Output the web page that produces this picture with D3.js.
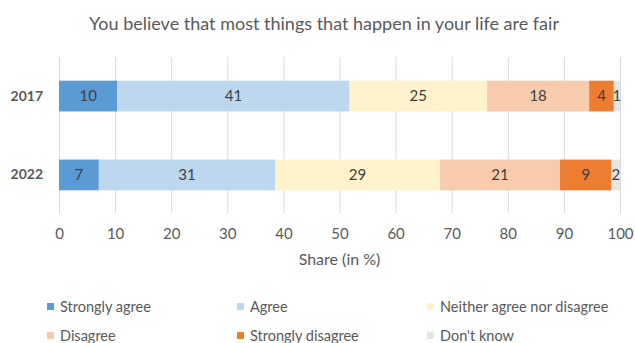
<!DOCTYPE html>
<html>
<head>
<meta charset="utf-8">
<script src="https://cdn.jsdelivr.net/npm/d3@7"></script>
<style>
  html, body { margin: 0; padding: 0; background: #ffffff; }
  svg { display: block; font-family: Lato, "Open Sans", sans-serif; }
</style>
</head>
<body>
<svg id="chart" width="635" height="343"></svg>
<script>
// Survey years (rows of the stacked bar chart)
const years = ["2017", "2022"];

// Response categories, in stacking order
const categories = [
  "Strongly agree",
  "Agree",
  "Neither agree nor disagree",
  "Disagree",
  "Strongly disagree",
  "Don't know"
];

// Share of respondents (in %) per category, one array per year
const values2017 = [10.4, 41.4, 24.5, 18.2, 4.4, 1.1];
const values2022 = [7.1, 31.4, 29.4, 21.4, 9.2, 1.5];

// Axis ticks
const xTicks = [0, 10, 20, 30, 40, 50, 60, 70, 80, 90, 100];

const colors = ["#5B9BD5", "#BDD7EE", "#FFF2CC", "#F8CBAD", "#ED7D31", "#E7E6E6"];

const title = "You believe that most things that happen in your life are fair";
const xTitle = "Share (in %)";

const svg = d3.select("#chart");
const textColor = "#595959";

const x = d3.scaleLinear().domain([0, 100]).range([59, 620]);
const y = d3.scaleBand().domain(years).range([57, 214]).paddingInner(0.61).paddingOuter(0.3);
const color = d3.scaleOrdinal().domain(categories).range(colors);

// Build stack input: one row per year
const rows = years.map((yr, i) => {
  const vals = i === 0 ? values2017 : values2022;
  const row = { year: yr };
  categories.forEach((c, j) => { row[c] = vals[j]; });
  return row;
});
const series = d3.stack().keys(categories)(rows);

// Title
svg.append("text")
  .attr("x", 324).attr("y", 30)
  .attr("text-anchor", "middle")
  .attr("font-size", 18)
  .attr("fill", textColor)
  .text(title);

// Vertical gridlines
svg.append("g")
  .selectAll("line")
  .data(xTicks)
  .join("line")
  .attr("x1", d => x(d) + 0.5).attr("x2", d => x(d) + 0.5)
  .attr("y1", 57).attr("y2", 213)
  .attr("stroke", "#d9d9d9")
  .attr("stroke-width", 1);

// Bars
const layer = svg.append("g")
  .selectAll("g")
  .data(series)
  .join("g")
  .attr("fill", d => color(d.key));

layer.selectAll("rect")
  .data(d => d)
  .join("rect")
  .attr("x", d => x(d[0]))
  .attr("width", d => x(d[1]) - x(d[0]))
  .attr("y", d => y(d.data.year))
  .attr("height", y.bandwidth());

// Value labels
const fmt = d3.format(".0f");
const labels = svg.append("g");
series.forEach(s => {
  s.forEach(d => {
    labels.append("text")
      .attr("x", (x(d[0]) + x(d[1])) / 2)
      .attr("y", y(d.data.year) + y.bandwidth() / 2)
      .attr("dy", "0.35em")
      .attr("text-anchor", "middle")
      .attr("font-size", 15)
      .attr("fill", "#404040")
      .text(fmt(d[1] - d[0]));
  });
});

// Y axis (year labels)
const yAxis = d3.axisLeft(y).tickSize(0).tickPadding(0);
svg.append("g")
  .attr("transform", "translate(43,0)")
  .call(yAxis)
  .call(g => g.select(".domain").remove())
  .call(g => g.selectAll("text")
    .attr("font-family", "Lato, 'Open Sans', sans-serif")
    .attr("font-size", 14)
    .attr("font-weight", "bold")
    .attr("fill", textColor));

// X axis (tick labels only)
const xAxis = d3.axisBottom(x).tickValues(xTicks).tickSize(0).tickPadding(0);
svg.append("g")
  .attr("transform", "translate(0,228)")
  .call(xAxis)
  .call(g => g.select(".domain").remove())
  .call(g => g.selectAll("text")
    .attr("font-family", "Lato, 'Open Sans', sans-serif")
    .attr("font-size", 15)
    .attr("fill", textColor));

// X axis title
svg.append("text")
  .attr("x", (x(0) + x(100)) / 2)
  .attr("y", 265)
  .attr("text-anchor", "middle")
  .attr("font-size", 16)
  .attr("fill", textColor)
  .text(xTitle);

// Legend: three columns, two rows
const legend = svg.append("g");
const legendX = [47, 237, 427];
const legendY = [306.5, 335.5];
categories.forEach((c, i) => {
  const lx = legendX[i % 3];
  const ly = legendY[Math.floor(i / 3)];
  legend.append("rect")
    .attr("x", lx).attr("y", ly - 3.5)
    .attr("width", 7).attr("height", 7)
    .attr("fill", color(c));
  legend.append("text")
    .attr("x", lx + 13).attr("y", ly)
    .attr("dy", "0.35em")
    .attr("font-size", 14.5)
    .attr("fill", textColor)
    .text(c);
});
</script>
</body>
</html>
